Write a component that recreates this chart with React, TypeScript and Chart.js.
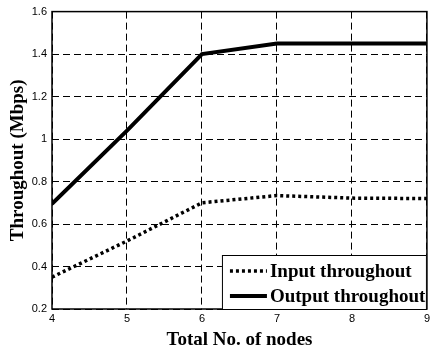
import React, { useEffect, useRef } from "react";
import { Chart, registerables } from "chart.js";

Chart.register(...registerables);

const nodes = [4, 5, 6, 7, 8, 9];
const inputThroughput = [0.35, 0.52, 0.7, 0.734, 0.722, 0.72];
const outputThroughput = [0.695, 1.04, 1.4, 1.45, 1.45, 1.45];
const yTicks = [0.2, 0.4, 0.6, 0.8, 1, 1.2, 1.4, 1.6];
const seriesLabels = ["Input throughout", "Output throughout"];

const frameLegendPlugin = {
  id: "frameLegend",
  afterDraw(chart: any) {
    const { ctx, chartArea } = chart;
    const { left, top, right, bottom } = chartArea;
    ctx.save();
    ctx.strokeStyle = "#000";
    ctx.lineWidth = 1.5;
    ctx.setLineDash([]);
    ctx.strokeRect(left, top, right - left, bottom - top);
    const boxW = 205;
    const boxH = 54;
    const bx = right - boxW;
    const by = bottom - boxH;
    ctx.fillStyle = "#fff";
    ctx.fillRect(bx, by, boxW, boxH);
    ctx.lineWidth = 1;
    ctx.strokeRect(bx + 0.5, by + 0.5, boxW - 1, boxH);
    ctx.font = "bold 19px 'Liberation Serif'";
    ctx.textBaseline = "middle";
    ctx.textAlign = "left";
    chart.data.datasets.forEach((ds: any, i: number) => {
      const cy = by + 16 + i * 25;
      ctx.beginPath();
      ctx.strokeStyle = ds.borderColor;
      ctx.lineWidth = ds.borderWidth;
      ctx.setLineDash(ds.borderDash || []);
      ctx.lineCap = "butt";
      ctx.moveTo(bx + 8, cy);
      ctx.lineTo(bx + 45, cy);
      ctx.stroke();
      ctx.setLineDash([]);
      ctx.fillStyle = "#000";
      ctx.fillText(ds.label, bx + 48, cy + 1);
    });
    ctx.restore();
  },
};

export default function App() {
  const ref = useRef<HTMLCanvasElement>(null);
  useEffect(() => {
    if (!ref.current) return;
    const chart = new Chart(ref.current, {
      type: "line",
      data: {
        datasets: [
          {
            label: seriesLabels[0],
            data: nodes.map((x, i) => ({ x, y: inputThroughput[i] })),
            borderColor: "#000",
            borderWidth: 3.5,
            borderDash: [3, 3],
            pointRadius: 0,
            fill: false,
            tension: 0,
          },
          {
            label: seriesLabels[1],
            data: nodes.map((x, i) => ({ x, y: outputThroughput[i] })),
            borderColor: "#000",
            borderWidth: 4,
            pointRadius: 0,
            fill: false,
            tension: 0,
          },
        ],
      },
      options: {
        animation: false,
        responsive: true,
        maintainAspectRatio: false,
        layout: { padding: { top: 10, right: 3, left: 0, bottom: 0 } },
        plugins: { legend: { display: false }, tooltip: { enabled: false } },
        scales: {
          x: {
            type: "linear",
            min: 4,
            max: 9,
            afterBuildTicks: (s: any) => {
              s.ticks = nodes.map((v) => ({ value: v }));
            },
            afterFit: (s: any) => {
              s.height = 42;
            },
            ticks: {
              color: "#000",
              font: { family: "'Liberation Sans'", size: 11 },
              padding: 3,
              maxRotation: 0,
            },
            grid: { color: "#000", lineWidth: 1, drawTicks: false },
            border: { display: false, dash: [7, 4] },
            title: {
              display: true,
              text: "Total No. of nodes",
              color: "#000",
              font: { family: "'Liberation Serif'", size: 19, weight: "bold" },
              padding: { top: 2, bottom: 0 },
            },
          },
          y: {
            type: "linear",
            min: 0.2,
            max: 1.6,
            afterBuildTicks: (s: any) => {
              s.ticks = yTicks.map((v) => ({ value: v }));
            },
            afterFit: (s: any) => {
              s.width = 52;
            },
            ticks: {
              color: "#000",
              font: { family: "'Liberation Sans'", size: 11 },
              padding: 5,
              callback: (v: any) => String(Number(Number(v).toFixed(1))),
            },
            grid: { color: "#000", lineWidth: 1, drawTicks: false },
            border: { display: false, dash: [7, 4] },
            title: {
              display: true,
              text: "Throughout (Mbps)",
              color: "#000",
              font: { family: "'Liberation Serif'", size: 19, weight: "bold" },
              padding: { top: 7, bottom: 2 },
            },
          },
        },
      },
      plugins: [frameLegendPlugin],
    });
    return () => chart.destroy();
  }, []);
  return (
    <div style={{ position: "absolute", left: 0, top: 0, width: 433, height: 351 }}>
      <canvas ref={ref} />
    </div>
  );
}
